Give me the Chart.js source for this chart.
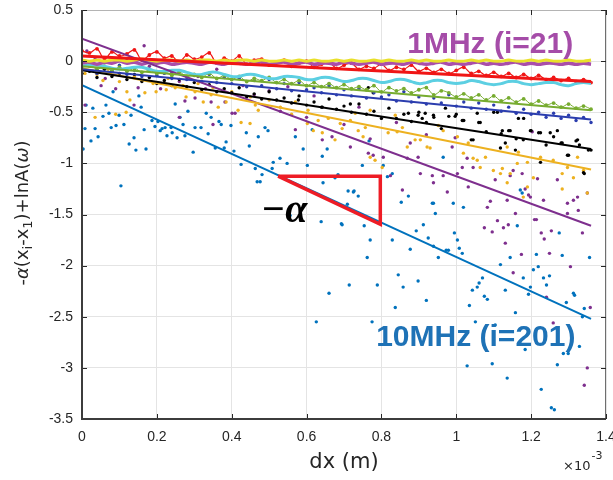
<!DOCTYPE html>
<html><head><meta charset="utf-8">
<script src="https://cdn.jsdelivr.net/npm/chart.js@4.4.0/dist/chart.umd.min.js"></script>
<style>html,body{margin:0;padding:0;background:#fff;}#wrap{width:613px;height:480px;}</style>
</head><body><div id="wrap"><canvas id="c" width="613" height="480"></canvas></div>
<script>
// ---------- data (x in units of 1e-3 m) ----------
const xTicks = [0,0.2,0.4,0.6,0.8,1,1.2,1.4];
const yTicks = [0.5,0,-0.5,-1,-1.5,-2,-2.5,-3,-3.5];
const gridX = [0,0.02,0.04,0.06,0.08,0.1,0.12,0.14,0.16,0.18,0.2,0.22,0.24,0.26,0.28,0.3,0.32,0.34,0.36,0.38,0.4,0.42,0.44,0.46,0.48,0.5,0.52,0.54,0.56,0.58,0.6,0.62,0.64,0.66,0.68,0.7,0.72,0.74,0.76,0.78,0.8,0.82,0.84,0.86,0.88,0.9,0.92,0.94,0.96,0.98,1,1.02,1.04,1.06,1.08,1.1,1.12,1.14,1.16,1.18,1.2,1.22,1.24,1.26,1.28,1.3,1.32,1.34,1.36];
const yellowY = [0.01,0.00,0.01,0.00,0.01,0.01,0.00,0.01,0.02,0.01,0.00,0.01,0.01,0.00,0.01,0.00,0.01,0.01,0.00,0.01,0.00,0.01,0.01,0.00,0.01,0.00,0.00,0.01,0.00,0.01,0.00,0.01,0.00,0.00,0.01,0.00,0.01,0.00,0.00,0.01,0.00,0.01,0.00,0.00,0.01,0.00,0.01,0.00,0.00,0.01,0.00,0.00,0.01,0.00,0.01,0.00,0.00,0.01,0.00,0.00,0.01,0.00,0.01,0.00,0.00,0.01,0.00,0.00,0.01];
const magentaY = [-0.02,-0.01,-0.03,-0.01,-0.02,0.00,-0.02,-0.01,-0.03,-0.01,-0.02,-0.01,-0.03,-0.02,-0.01,-0.02,-0.03,-0.01,-0.02,-0.03,-0.01,-0.02,-0.03,-0.02,-0.01,-0.03,-0.02,-0.01,-0.03,-0.02,-0.01,-0.03,-0.02,-0.02,-0.03,-0.01,-0.02,-0.03,-0.02,-0.01,-0.03,-0.02,-0.02,-0.03,-0.01,-0.02,-0.03,-0.02,-0.01,-0.03,-0.02,-0.03,-0.02,-0.01,-0.03,-0.02,-0.03,-0.02,-0.01,-0.03,-0.02,-0.03,-0.02,-0.02,-0.03,-0.02,-0.03,-0.02,-0.03];
const cyanY = [-0.05,-0.04,-0.04,-0.05,-0.07,-0.08,-0.07,-0.06,-0.06,-0.08,-0.10,-0.10,-0.09,-0.09,-0.11,-0.13,-0.13,-0.11,-0.11,-0.13,-0.15,-0.15,-0.13,-0.13,-0.15,-0.17,-0.17,-0.15,-0.15,-0.16,-0.18,-0.18,-0.16,-0.16,-0.18,-0.20,-0.19,-0.17,-0.17,-0.19,-0.21,-0.20,-0.18,-0.18,-0.20,-0.22,-0.21,-0.19,-0.19,-0.21,-0.22,-0.21,-0.19,-0.20,-0.22,-0.23,-0.22,-0.20,-0.20,-0.22,-0.23,-0.22,-0.21,-0.21,-0.23,-0.24,-0.22,-0.21,-0.22];
const redY = [0.10,0.08,0.12,0.02,0.09,0.05,0.07,0.11,0.01,0.06,0.09,0.03,0.05,-0.01,0.06,0.02,0.04,0.08,-0.02,0.03,0.00,0.05,-0.03,0.01,0.02,-0.04,-0.01,0.01,-0.05,-0.02,0.00,-0.06,-0.03,-0.01,-0.07,-0.04,-0.02,-0.08,-0.05,-0.07,-0.03,-0.09,-0.06,-0.08,-0.04,-0.10,-0.07,-0.11,-0.08,-0.12,-0.09,-0.06,-0.12,-0.10,-0.14,-0.11,-0.15,-0.12,-0.16,-0.13,-0.17,-0.14,-0.18,-0.16,-0.19,-0.17,-0.20,-0.18,-0.21];
const greenY = [-0.06,-0.03,-0.08,-0.05,-0.09,-0.06,-0.10,-0.07,-0.11,-0.09,-0.12,-0.10,-0.14,-0.11,-0.15,-0.13,-0.16,-0.12,-0.17,-0.14,-0.18,-0.15,-0.20,-0.17,-0.19,-0.16,-0.21,-0.18,-0.22,-0.19,-0.24,-0.21,-0.25,-0.22,-0.26,-0.23,-0.27,-0.25,-0.28,-0.24,-0.30,-0.26,-0.29,-0.27,-0.31,-0.28,-0.26,-0.33,-0.29,-0.31,-0.35,-0.32,-0.36,-0.33,-0.38,-0.34,-0.39,-0.36,-0.40,-0.37,-0.42,-0.39,-0.43,-0.41,-0.45,-0.42,-0.46,-0.44,-0.47];
const navyY = [-0.08,-0.03,-0.12,-0.06,-0.10,-0.04,-0.13,-0.09,-0.15,-0.08,-0.14,-0.12,-0.17,-0.10,-0.18,-0.14,-0.20,-0.13,-0.21,-0.16,-0.22,-0.17,-0.25,-0.19,-0.24,-0.18,-0.27,-0.22,-0.29,-0.21,-0.28,-0.26,-0.31,-0.24,-0.33,-0.28,-0.34,-0.27,-0.36,-0.31,-0.35,-0.33,-0.39,-0.30,-0.40,-0.35,-0.42,-0.36,-0.41,-0.33,-0.44,-0.40,-0.46,-0.41,-0.47,-0.43,-0.49,-0.45,-0.51,-0.47,-0.52,-0.50,-0.55,-0.51,-0.56,-0.53,-0.58,-0.55,-0.60];
const blackY = [-0.12,-0.10,-0.16,-0.08,-0.15,-0.12,-0.18,-0.13,-0.20,-0.16,-0.22,-0.19,-0.24,-0.18,-0.25,-0.21,-0.28,-0.23,-0.30,-0.27,-0.31,-0.26,-0.35,-0.32,-0.37,-0.30,-0.38,-0.36,-0.41,-0.34,-0.43,-0.40,-0.45,-0.37,-0.47,-0.44,-0.50,-0.42,-0.52,-0.49,-0.56,-0.46,-0.56,-0.52,-0.59,-0.50,-0.60,-0.55,-0.66,-0.54,-0.52,-0.58,-0.77,-0.60,-0.69,-0.50,-0.71,-0.68,-0.76,-0.56,-0.68,-0.70,-0.82,-0.74,-0.80,-0.92,-0.78,-1.09,-0.87];
const blackExtra = [[0.939,-0.53],[0.971,-0.46],[0.997,-0.54],[1.016,-0.58],[1.056,-0.51],[1.064,-0.60],[1.110,-0.50],[1.123,-0.68],[1.144,-0.68],[1.166,-0.56],[1.179,-0.77],[1.198,-0.68],[1.225,-0.70],[1.251,-0.70],[1.270,-0.68],[1.297,-0.92],[1.324,-0.77],[1.329,-0.82],[1.342,-1.10],[1.353,-0.87],[1.283,-0.80],[1.225,-0.99],[1.158,-0.87],[1.131,-0.80],[1.045,-0.77],[1.118,-0.85],[0.765,-0.26],[0.778,-0.31],[0.872,-0.51],[0.898,-0.53],[0.909,-0.56],[0.917,-0.51],[0.578,-0.38],[0.642,-0.45],[0.717,-0.42]];
const goldDots = [[0.008,-0.12],[0.056,-0.19],[0.118,-0.50],[0.128,-0.38],[0.168,-0.31],[0.198,-0.30],[0.225,-0.28],[0.249,-0.26],[0.278,-0.35],[0.302,-0.30],[0.324,-0.40],[0.345,-0.33],[0.364,-0.45],[0.385,-0.40],[0.417,-0.48],[0.425,-0.60],[0.449,-0.61],[0.463,-0.43],[0.471,-0.48],[0.570,-0.40],[0.602,-0.61],[0.604,-0.48],[0.618,-0.68],[0.631,-0.58],[0.642,-0.70],[0.658,-0.56],[0.676,-0.77],[0.690,-0.61],[0.695,-0.66],[0.717,-0.58],[0.730,-0.51],[0.738,-0.68],[0.751,-0.74],[0.757,-0.65],[0.770,-0.94],[0.770,-0.48],[0.783,-0.97],[0.802,-1.04],[0.818,-0.70],[0.837,-0.53],[0.842,-0.69],[0.856,-0.65],[0.869,-0.84],[0.890,-0.77],[0.904,-0.77],[0.922,-0.84],[0.930,-0.85],[0.952,-0.63],[0.965,-0.68],[1.003,-0.74],[1.019,-0.90],[1.032,-0.80],[1.045,-0.95],[1.056,-0.97],[1.064,-1.04],[1.078,-0.94],[1.099,-1.07],[1.118,-1.10],[1.123,-1.05],[1.136,-0.84],[1.136,-1.19],[1.144,-1.10],[1.163,-1.00],[1.166,-0.89],[1.179,-1.33],[1.190,-0.99],[1.190,-1.23],[1.206,-1.14],[1.225,-0.94],[1.259,-0.97],[1.283,-1.10],[1.283,-1.25],[1.297,-1.04],[1.313,-1.14],[1.324,-0.94],[1.340,-1.07],[1.350,-1.29],[0.02,-0.05],[0.04,-0.13],[0.07,-0.08],[0.10,-0.20],[0.14,-0.15],[0.19,-0.22],[0.23,-0.17],[0.27,-0.24],[0.31,-0.22],[0.35,-0.26],[0.40,-0.30],[0.45,-0.35],[0.50,-0.38],[0.53,-0.45],[0.56,-0.52],[0.12,-0.30],[0.09,-0.52],[0.035,-0.55]];
const purpleDots = [[0.166,0.15],[0.008,-0.43],[0.051,-0.24],[0.139,-0.43],[0.275,-0.39],[0.302,-0.36],[0.345,-0.40],[0.382,-0.40],[0.401,-0.51],[0.409,-0.51],[0.570,-0.67],[0.642,-0.77],[0.668,-0.74],[0.717,-0.84],[0.765,-0.90],[0.770,-0.76],[0.778,-0.92],[0.805,-0.94],[0.824,-1.12],[0.856,-1.26],[0.869,-0.95],[0.877,-0.80],[0.898,-0.94],[0.904,-1.10],[0.936,-1.12],[0.939,-1.19],[0.965,-1.12],[0.976,-1.28],[0.989,-0.84],[0.997,-0.75],[1.003,-1.10],[1.016,-1.04],[1.029,-0.95],[1.032,-1.23],[1.045,-1.04],[1.075,-1.63],[1.083,-1.43],[1.091,-1.37],[1.096,-1.67],[1.104,-1.16],[1.110,-1.56],[1.126,-1.63],[1.131,-1.78],[1.136,-1.36],[1.139,-1.60],[1.144,-1.12],[1.152,-1.07],[1.152,-2.07],[1.158,-1.49],[1.174,-1.89],[1.176,-1.10],[1.184,-1.25],[1.193,-1.31],[1.198,-1.33],[1.203,-0.69],[1.209,-1.55],[1.214,-1.55],[1.217,-1.15],[1.227,-1.68],[1.233,-1.36],[1.235,-1.74],[1.241,-2.31],[1.249,-1.88],[1.254,-1.66],[1.259,-2.56],[1.270,-1.16],[1.297,-1.39],[1.297,-1.49],[1.305,-2.01],[1.313,-1.36],[1.324,-1.33],[1.326,-1.46],[1.337,-1.68],[1.342,-3.17],[1.350,-1.29],[1.350,-3.00],[1.358,-2.41],[0.013,0.10],[0.035,0.02],[0.062,-0.17],[0.09,-0.27],[0.12,0.02],[0.15,-0.26],[0.18,-0.05],[0.21,-0.27],[0.24,-0.11],[0.26,-0.20],[0.31,-0.15],[0.33,-0.27],[0.36,-0.08],[0.43,-0.24],[0.46,-0.33],[0.50,-0.29],[0.53,-0.49],[0.55,-0.25],[0.60,-0.55],[0.62,-0.34],[0.70,-0.62],[0.74,-0.45],[0.84,-0.60],[0.92,-0.72],[0.26,-0.55],[0.35,-0.62]];
const blueDots = [[0.003,-0.86],[0.008,-0.66],[0.011,-0.43],[0.024,-0.78],[0.029,-0.46],[0.035,-0.66],[0.043,-0.74],[0.056,-0.54],[0.064,-0.43],[0.072,-0.51],[0.078,-0.65],[0.083,-0.30],[0.091,-0.63],[0.099,-0.53],[0.104,-1.22],[0.112,-0.62],[0.126,-0.81],[0.131,-0.53],[0.139,-0.75],[0.144,-0.87],[0.152,-0.34],[0.158,-0.45],[0.166,-0.67],[0.171,-0.86],[0.187,-0.58],[0.195,-0.64],[0.203,-0.59],[0.209,-0.68],[0.214,-0.66],[0.222,-0.65],[0.227,-0.73],[0.238,-0.65],[0.241,-0.70],[0.249,-0.42],[0.254,-0.75],[0.262,-0.55],[0.270,-0.62],[0.275,-0.73],[0.283,-0.49],[0.297,-0.89],[0.302,-0.65],[0.318,-0.65],[0.332,-0.51],[0.337,-0.71],[0.345,-0.55],[0.356,-0.85],[0.366,-0.59],[0.372,-0.62],[0.380,-0.85],[0.385,-0.79],[0.398,-0.63],[0.406,-0.88],[0.425,-1.01],[0.439,-0.70],[0.447,-0.83],[0.463,-1.05],[0.468,-1.18],
 [0.471,-0.74],[0.489,-0.65],[0.497,-0.68],[0.511,-0.99],[0.476,-1.18],[0.481,-1.11],[0.508,-1.05],[0.529,-0.95],[0.548,-1.00],[0.570,-0.74],[0.591,-0.86],[0.602,-1.02],[0.615,-0.67],[0.642,-0.93],[0.644,-1.19],[0.655,-0.86],[0.676,-1.14],[0.684,-1.11],[0.711,-1.27],[0.727,-1.27],[0.738,-1.32],[0.749,-1.02],[0.767,-0.78],[0.805,-1.02],[0.816,-1.13],[0.829,-1.10],[0.853,-1.38],[0.872,-1.32],[0.936,-1.39],[0.709,-1.40],[0.725,-1.28],[0.693,-1.59],[0.556,-1.51],
 [0.639,-1.57],[0.695,-1.60],[0.754,-1.61],[0.770,-1.75],[0.762,-1.92],[0.829,-1.75],[0.877,-1.84],[0.893,-1.66],[0.912,-1.60],[0.925,-1.73],[0.845,-2.09],[0.898,-2.15],[0.858,-2.21],[0.789,-2.19],[0.714,-2.19],[0.660,-2.27],[0.837,-2.41],[0.920,-2.34],[0.626,-2.55],[0.775,-2.55],
 [0.939,-1.81],[0.952,-1.92],[0.973,-1.85],[0.979,-1.85],[1.003,-1.75],[1.008,-1.83],[1.016,-1.88],[0.944,-1.49],[0.995,-1.68],[1.029,-2.98],[1.035,-2.39],[1.043,-2.24],[1.051,-2.55],[1.056,-2.21],[1.061,-2.17],[1.070,-2.12],[1.075,-2.30],[1.083,-2.33],[1.096,-2.96],[1.104,-2.58],[1.118,-1.99],[1.131,-2.24],[1.136,-3.10],[1.158,-2.46],[1.163,-1.61],[1.179,-2.12],[1.184,-2.82],[1.193,-2.28],[1.198,-2.21],[1.206,-2.04],[1.214,-1.89],[1.219,-2.01],[1.227,-3.21],[1.233,-2.12],[1.241,-2.19],[1.249,-2.10],[1.254,-3.39],[1.262,-3.41],[1.270,-2.97],[1.275,-1.68],[1.283,-1.90],[1.286,-2.86],[1.294,-2.36],[1.299,-2.86],[1.313,-2.27],[1.316,-2.29],[1.329,-2.79],[1.337,-2.50],[1.342,-2.42],[1.356,-1.92],[1.144,-1.92],[1.171,-1.26],[1.176,-1.29],[0.965,-0.94],[0.992,-1.39],[1.019,-1.43],[0.939,-1.39]];
// fitted lines: value at x = 0 and at x = 1.36
const fitX = [0, 1.36];
const blueFit = [-0.235, -2.52];
const purpleFit = [0.22, -1.61];
const goldFit = [-0.07, -1.06];
const blackFit = [-0.09, -0.86];
const navyFit = [-0.08, -0.57];
const greenFit = [-0.05, -0.48];
const redFit = [0.05, -0.20];
// slope triangle
const triX = [0.524, 0.797, 0.797, 0.524];
const triY = [-1.125, -1.125, -1.595, -1.125];

// ---------- chart ----------
const C = {blue:'#0072BD', purple:'#7E2F8E', gold:'#EDB120', black:'#000000', navy:'#2B3DAE', green:'#77AC30', cyan:'#5CCFE2', red:'#F01515', magenta:'#A94EAA', yellow:'#E9E02A'};
const pts = (xs, ys) => xs.map((x,i)=>({x, y:ys[i]}));
const pairs = arr => arr.map(p=>({x:p[0], y:p[1]}));
const dots = (data, color, r) => ({data, pointRadius:r||1.7, pointBackgroundColor:color, pointBorderWidth:0, pointHoverRadius:0, showLine:false});
const line = (data, color, w, t) => ({data, borderColor:color, borderWidth:w, pointRadius:0, pointHoverRadius:0, showLine:true, fill:false, tension:t||0, borderJoinStyle:'round', borderCapStyle:'butt'});

const ds = [
  dots(pairs(blueDots), C.blue),
  dots(pairs(purpleDots), C.purple),
  dots(pairs(goldDots), C.gold),
  dots(pts(gridX, blackY).concat(pairs(blackExtra)), C.black),
  dots(pts(gridX, navyY), C.navy),
  Object.assign(dots(pts(gridX, greenY), C.green, 1.9), {showLine:true, borderColor:C.green, borderWidth:1, tension:0.35}),
  Object.assign(dots(pts(gridX, redY), C.red, 1.9), {showLine:true, borderColor:C.red, borderWidth:1.2, tension:0.35}),
  line(pts(gridX, cyanY), C.cyan, 3, 0.4),
  line(pts(gridX, magentaY), C.magenta, 3.5, 0.4),
  line(pts(gridX, yellowY), C.yellow, 3, 0.4),
  line(pts(fitX, blueFit), C.blue, 2),
  line(pts(fitX, purpleFit), C.purple, 2),
  line(pts(fitX, goldFit), C.gold, 2),
  line(pts(fitX, blackFit), C.black, 2),
  line(pts(fitX, navyFit), C.navy, 2),
  line(pts(fitX, greenFit), C.green, 2),
  line(pts(fitX, redFit), C.red, 3),
  Object.assign(line(pts(triX, triY), '#EE1C25', 3.5), {borderJoinStyle:'miter'})
];
ds.forEach((d,i)=>{ d.order = ds.length - i; });

const TXT = '#262626';
const fmt = v => String(parseFloat(Number(v).toFixed(2)));

const deco = {
  id:'deco',
  afterDatasetsDraw(chart){
    const {ctx, chartArea:a, scales:{x, y}} = chart;
    ctx.save();
    ctx.textBaseline = 'alphabetic'; ctx.textAlign = 'left';
    ctx.font = 'bold 30px "Liberation Sans"'; ctx.fillStyle = '#A54CA8';
    ctx.fillText('1MHz (i=21)', x.getPixelForValue(0.869), y.getPixelForValue(0.078));
    ctx.fillStyle = '#1E72B6';
    ctx.fillText('10MHz (i=201)', x.getPixelForValue(0.786), y.getPixelForValue(-2.789));
    ctx.fillStyle = '#000';
    ctx.font = 'bold italic 40px "Liberation Serif"';
    ctx.fillText('\u2212\u03B1', x.getPixelForValue(0.478), y.getPixelForValue(-1.575));
    // frame + inward ticks
    ctx.lineWidth = 1;
    ctx.strokeStyle = '#b4b4b4';
    ctx.beginPath(); ctx.moveTo(a.left, a.top+0.5); ctx.lineTo(a.right, a.top+0.5); ctx.stroke();
    ctx.strokeStyle = '#6e6e6e';
    ctx.beginPath(); ctx.moveTo(a.right-0.5, a.top); ctx.lineTo(a.right-0.5, a.bottom); ctx.stroke();
    ctx.strokeStyle = '#262626'; ctx.lineWidth = 1;
    ctx.beginPath();
    xTicks.forEach(v=>{ const px = Math.round(x.getPixelForValue(v))+0.5; ctx.moveTo(px, a.bottom); ctx.lineTo(px, a.bottom-5); ctx.moveTo(px, a.top); ctx.lineTo(px, a.top+5); });
    yTicks.forEach(v=>{ const py = Math.round(y.getPixelForValue(v))+0.5; ctx.moveTo(a.left, py); ctx.lineTo(a.left+5, py); ctx.moveTo(a.right, py); ctx.lineTo(a.right-5, py); });
    ctx.stroke();
    ctx.strokeStyle = '#3c3c3c'; ctx.lineWidth = 2;
    ctx.beginPath(); ctx.moveTo(a.left, a.top); ctx.lineTo(a.left, a.bottom); ctx.lineTo(a.right, a.bottom); ctx.stroke();
    ctx.restore();
  },
  afterDraw(chart){
    const {ctx, chartArea:a} = chart;
    ctx.save();
    ctx.fillStyle = TXT;
    ctx.font = '21px "DejaVu Sans"'; ctx.textAlign = 'center'; ctx.textBaseline = 'alphabetic';
    ctx.fillText('dx (m)', (a.left+a.right)/2, 468);
    ctx.textAlign = 'left';
    ctx.font = '13px "DejaVu Sans"';
    ctx.fillText('\u00D710', 563, 470);
    const w = ctx.measureText('\u00D710').width;
    ctx.font = '11px "DejaVu Sans"';
    ctx.fillText('-3', 563 + w + 1, 459);
    const F = '"DejaVu Sans"';
    const segs = [
      {t:'-', f:'18px '+F, dy:0},
      {t:'\u03B1', f:'oblique 18px '+F, dy:0},
      {t:'(x', f:'18px '+F, dy:0},
      {t:'i', f:'13px '+F, dy:4},
      {t:'-x', f:'18px '+F, dy:0},
      {t:'1', f:'13px '+F, dy:4},
      {t:')+lnA(', f:'18px '+F, dy:0},
      {t:'\u03C9', f:'oblique 18px '+F, dy:0},
      {t:')', f:'18px '+F, dy:0}
    ];
    let total = 0;
    segs.forEach(s=>{ ctx.font = s.f; s.w = ctx.measureText(s.t).width; total += s.w; });
    ctx.translate(28, 213);
    ctx.rotate(-Math.PI/2);
    let cx = -total/2;
    segs.forEach(s=>{ ctx.font = s.f; ctx.fillText(s.t, cx, s.dy); cx += s.w; });
    ctx.restore();
  }
};

Chart.defaults.font.family = '"Liberation Sans", Arial, sans-serif';
new Chart(document.getElementById('c'), {
  type:'scatter',
  data:{datasets:ds},
  options:{
    responsive:false, animation:false, devicePixelRatio:1,
    layout:{padding:{left:0, right:7, top:10, bottom:0}},
    plugins:{legend:{display:false}, tooltip:{enabled:false}},
    events:[],
    scales:{
      x:{type:'linear', min:0, max:1.4,
         afterBuildTicks:s=>{ s.ticks = xTicks.map(v=>({value:v})); },
         afterFit:s=>{ s.height = 61; s.paddingLeft = 0; s.paddingRight = 0; },
         ticks:{callback:v=>fmt(v), color:TXT, font:{size:14}, padding:10, maxRotation:0, autoSkip:false},
         grid:{color:'#e4e4e4', drawTicks:false}, border:{display:false}},
      y:{type:'linear', min:-3.5, max:0.5,
         afterBuildTicks:s=>{ s.ticks = yTicks.map(v=>({value:v})); },
         afterFit:s=>{ s.width = 82; s.paddingTop = 0; s.paddingBottom = 0; },
         ticks:{callback:v=>fmt(v), color:TXT, font:{size:14}, padding:9, autoSkip:false},
         grid:{color:'#e4e4e4', drawTicks:false}, border:{display:false}}
    }
  },
  plugins:[deco]
});
</script>
</body></html>
